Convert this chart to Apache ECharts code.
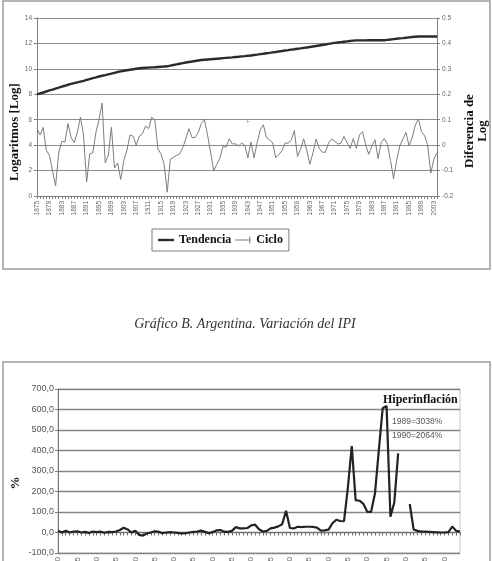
<!DOCTYPE html>
<html>
<head>
<meta charset="utf-8">
<script src="https://cdn.jsdelivr.net/npm/echarts@6/dist/echarts.min.js"></script>
<style>
  html, body { margin: 0; padding: 0; background: #fff; }
  #chart { width: 492px; height: 561px; }
</style>
</head>
<body>
<div id="chart"></div>
<script>
// Gráfico A: tendencia (log) y ciclo, 1875-2004
const cycleYears = []
for (let y = 1875; y <= 2004; y++) cycleYears.push(String(y))

const trend = [
  8.00, 8.07, 8.14, 8.22, 8.30, 8.37, 8.45, 8.52, 8.60, 8.67,
  8.75, 8.82, 8.88, 8.94, 9.00, 9.06, 9.13, 9.20, 9.27, 9.33,
  9.40, 9.46, 9.51, 9.57, 9.63, 9.69, 9.75, 9.80, 9.85, 9.89,
  9.93, 9.97, 10.01, 10.05, 10.07, 10.09, 10.10, 10.12, 10.13, 10.15,
  10.17, 10.18, 10.20, 10.25, 10.30, 10.35, 10.40, 10.45, 10.50, 10.54,
  10.58, 10.62, 10.66, 10.70, 10.72, 10.74, 10.76, 10.78, 10.80, 10.82,
  10.84, 10.86, 10.88, 10.90, 10.93, 10.95, 10.98, 11.00, 11.03, 11.05,
  11.09, 11.12, 11.16, 11.19, 11.23, 11.26, 11.30, 11.33, 11.37, 11.40,
  11.44, 11.47, 11.51, 11.54, 11.58, 11.61, 11.65, 11.68, 11.72, 11.76,
  11.80, 11.84, 11.88, 11.92, 11.96, 12.00, 12.04, 12.07, 12.10, 12.13,
  12.16, 12.19, 12.22, 12.24, 12.24, 12.24, 12.24, 12.25, 12.25, 12.25,
  12.25, 12.25, 12.25, 12.28, 12.31, 12.34, 12.37, 12.40, 12.42, 12.45,
  12.48, 12.51, 12.53, 12.55, 12.55, 12.55, 12.55, 12.55, 12.55, 12.55
]

const cycle = [
  0.066, 0.04, 0.07, -0.02, -0.04, -0.10, -0.16, -0.03, 0.015, 0.012,
  0.085, 0.03, 0.01, 0.05, 0.11, 0.04, -0.145, -0.035, -0.03, 0.05,
  0.10, 0.165, -0.07, -0.04, 0.07, -0.09, -0.07, -0.135, -0.06, -0.02,
  0.04, 0.035, 0.0, 0.035, 0.045, 0.075, 0.065, 0.11, 0.10, -0.015,
  -0.035, -0.075, -0.185, -0.055, -0.048, -0.04, -0.035, -0.01, 0.025, 0.065,
  0.03, 0.03, 0.05, 0.085, 0.10, 0.04, -0.03, -0.10, -0.075, -0.05,
  -0.005, -0.008, 0.025, 0.005, 0.005, -0.003, 0.008, 0.0, -0.05, 0.012,
  -0.05, 0.01, 0.06, 0.08, 0.03, 0.02, 0.01, -0.05, -0.037, -0.022,
  0.008, 0.008, 0.02, 0.057, -0.045, -0.016, 0.025, -0.02, -0.075, -0.03,
  0.024, -0.012, -0.028, -0.028, 0.008, 0.024, 0.017, 0.004, 0.008, 0.034,
  0.01, -0.013, 0.026, -0.013, 0.04, 0.053, 0.0, -0.036, -0.003, 0.021,
  -0.053, 0.01, 0.026, 0.004, -0.06, -0.132, -0.06, -0.003, 0.024, 0.05,
  -0.003, 0.03, 0.079, 0.103, 0.053, 0.037, 0.0, -0.11, -0.055, -0.03
]

// Gráfico B: variación del IPI (%), 1900-2004
const ipiYears = []
for (let y = 1900; y <= 2004; y++) ipiYears.push(String(y))

const ipiChange = [
  9, 0, 9, 0, 5, 6, 0, 3, -2, 5,
  2, 4, -1, 3, 2, 5, 12, 23, 15, 0,
  9, -12, -15, -5, 0, 6, 4, -3, 0, 2,
  0, -2, -4, -3, 0, 3, 5, 9, 3, -3,
  2, 10, 12, 4, 3, 8, 26, 20, 20, 22,
  35, 38, 16, 5, 8, 20, 24, 30, 40, 106,
  22, 20, 28, 26, 28, 28, 27, 24, 9, 10,
  14, 45, 62, 56, 55, 220, 422, 158, 155, 140,
  101, 101, 190, 402, 606, 617, 77, 146, 386, 3038,
  2064, 139, 15, 8, 5, 4, 3, 2, 1, 0,
  0, 2, 29, 8, 5
]

const topTicksLeft = [0, 14, 2]
const topTicksRight = [-0.2, 0.5, 0.1]
const bottomTicks = [-100, 700, 100]

const SERIF = '"Liberation Serif", "DejaVu Serif", serif'
const SANS = '"Liberation Sans", Arial, sans-serif'
const GRID_GRAY = '#8c8c8c'
const AXIS_GRAY = '#808080'

// los valores fuera de escala (1989, 1990) no se dibujan
const ipiPlot = ipiChange.map(v => (v > bottomTicks[1] ? null : v))

const chart = echarts.init(document.getElementById('chart'))

const option = {
  animation: false,
  backgroundColor: '#fff',
  grid: [
    { left: 37, top: 18, width: 400, height: 178, outerBoundsMode: 'none' },
    { left: 58, top: 389, width: 402, height: 164, outerBoundsMode: 'none',
      show: true, borderColor: '#c6c6c6', borderWidth: 1 }
  ],
  legend: {
    left: 152,
    top: 229,
    padding: [5, 6, 5, 6],
    borderColor: '#7a7a7a',
    borderWidth: 1,
    itemWidth: 16,
    itemHeight: 10,
    itemGap: 4,
    selectedMode: false,
    textStyle: { fontFamily: SERIF, fontWeight: 'bold', fontSize: 12, color: '#111' },
    data: [
      { name: 'Tendencia', icon: 'path://M0,0h16v2.4h-16z' },
      { name: 'Ciclo', icon: 'path://M0,3h16v1h-16z M14,0h1v7h-1z' }
    ]
  },
  xAxis: [
    {
      gridIndex: 0,
      type: 'category',
      data: cycleYears,
      boundaryGap: false,
      axisLine: { lineStyle: { color: AXIS_GRAY } },
      axisTick: { interval: 0, length: 3, lineStyle: { color: AXIS_GRAY } },
      axisLabel: { interval: 3, rotate: 90, fontSize: 6.5, color: '#666', fontFamily: SANS, margin: 5 },
      splitLine: { show: false }
    },
    {
      gridIndex: 1,
      type: 'category',
      data: ipiYears,
      boundaryGap: false,
      axisLine: { onZero: true, lineStyle: { color: '#6e6e6e', width: 1.2 } },
      axisTick: { interval: 0, length: 3, lineStyle: { color: '#6e6e6e' } },
      axisLabel: { show: false },
      splitLine: { show: false }
    },
    {
      gridIndex: 1,
      type: 'category',
      data: ipiYears,
      boundaryGap: false,
      position: 'bottom',
      axisLine: { show: false, onZero: false },
      axisTick: { show: false },
      axisLabel: { interval: 4, rotate: 90, fontSize: 8, color: '#666', fontFamily: SANS, margin: 4 },
      splitLine: { show: false }
    }
  ],
  yAxis: [
    {
      gridIndex: 0,
      type: 'value',
      min: topTicksLeft[0],
      max: topTicksLeft[1],
      interval: topTicksLeft[2],
      axisLine: { show: true, lineStyle: { color: AXIS_GRAY } },
      axisTick: { show: true, length: 3, lineStyle: { color: AXIS_GRAY } },
      axisLabel: { fontSize: 6.5, color: '#666', fontFamily: SANS, margin: 5 },
      splitLine: { lineStyle: { color: GRID_GRAY, width: 1 } }
    },
    {
      gridIndex: 0,
      type: 'value',
      position: 'right',
      min: topTicksRight[0],
      max: topTicksRight[1],
      interval: topTicksRight[2],
      axisLine: { show: true, lineStyle: { color: AXIS_GRAY } },
      axisTick: { show: true, length: 3, lineStyle: { color: AXIS_GRAY } },
      axisLabel: {
        fontSize: 6.5, color: '#666', fontFamily: SANS, margin: 5,
        formatter: v => (Math.abs(v) < 1e-9 ? '0' : v.toFixed(1))
      },
      splitLine: { show: false }
    },
    {
      gridIndex: 1,
      type: 'value',
      min: bottomTicks[0],
      max: bottomTicks[1],
      interval: bottomTicks[2],
      axisLine: { show: true, lineStyle: { color: '#7a7a7a' } },
      axisTick: { show: true, length: 3, lineStyle: { color: '#7a7a7a' } },
      axisLabel: {
        fontSize: 9, color: '#555', fontFamily: SANS, margin: 4,
        formatter: v => v.toFixed(1).replace('.', ',')
      },
      splitLine: { lineStyle: { color: '#858585', width: 1.4 } }
    }
  ],
  series: [
    {
      name: 'Tendencia',
      type: 'line',
      xAxisIndex: 0,
      yAxisIndex: 0,
      data: trend,
      symbol: 'none',
      lineStyle: { color: '#2b2b2b', width: 2.4 },
      itemStyle: { color: '#2b2b2b' }
    },
    {
      name: 'Ciclo',
      type: 'line',
      xAxisIndex: 0,
      yAxisIndex: 1,
      data: cycle,
      symbol: 'none',
      lineStyle: { color: '#7d7d7d', width: 1 },
      itemStyle: { color: '#7d7d7d' }
    },
    {
      name: 'Variación IPI',
      type: 'line',
      xAxisIndex: 1,
      yAxisIndex: 2,
      data: ipiPlot,
      symbol: 'none',
      connectNulls: false,
      lineStyle: { color: '#222', width: 2.2 },
      itemStyle: { color: '#222' }
    }
  ],
  graphic: [
    { type: 'rect', silent: true, shape: { x: 3, y: 1, width: 487, height: 268 },
      style: { fill: 'none', stroke: '#9a9a9a', lineWidth: 1.5 } },
    { type: 'rect', silent: true, shape: { x: 3, y: 362, width: 487, height: 240 },
      style: { fill: 'none', stroke: '#9a9a9a', lineWidth: 1.5 } },
    { type: 'text', silent: true, x: 15, y: 132, rotation: Math.PI / 2,
      style: { text: 'Logaritmos [Log]', font: 'bold 13px ' + SERIF, fill: '#111', align: 'center', verticalAlign: 'middle' } },
    { type: 'text', silent: true, x: 476, y: 131, rotation: Math.PI / 2,
      style: { text: 'Diferencia de\nLog', font: 'bold 13px ' + SERIF, fill: '#111', align: 'center', verticalAlign: 'middle', lineHeight: 13 } },
    { type: 'text', silent: true, x: 248, y: 122,
      style: { text: 'F', font: '5px ' + SANS, fill: '#777', align: 'center', verticalAlign: 'middle' } },
    { type: 'text', silent: true, x: 245, y: 324,
      style: { text: 'Gráfico B. Argentina. Variación del IPI', font: 'italic 14px ' + SERIF, fill: '#333', align: 'center', verticalAlign: 'middle' } },
    { type: 'text', silent: true, x: 16, y: 483, rotation: Math.PI / 2,
      style: { text: '%', font: 'bold 13px ' + SERIF, fill: '#111', align: 'center', verticalAlign: 'middle' } },
    { type: 'text', silent: true, x: 383, y: 400,
      style: { text: 'Hiperinflación', font: 'bold 12px ' + SERIF, fill: '#111', align: 'left', verticalAlign: 'middle' } },
    { type: 'text', silent: true, x: 392, y: 422,
      style: { text: '1989=3038%', font: '8.5px ' + SANS, fill: '#555', align: 'left', verticalAlign: 'middle' } },
    { type: 'text', silent: true, x: 392, y: 436,
      style: { text: '1990=2064%', font: '8.5px ' + SANS, fill: '#555', align: 'left', verticalAlign: 'middle' } }
  ]
}

chart.setOption(option)
window.addEventListener('resize', () => chart.resize())
</script>
</body>
</html>
